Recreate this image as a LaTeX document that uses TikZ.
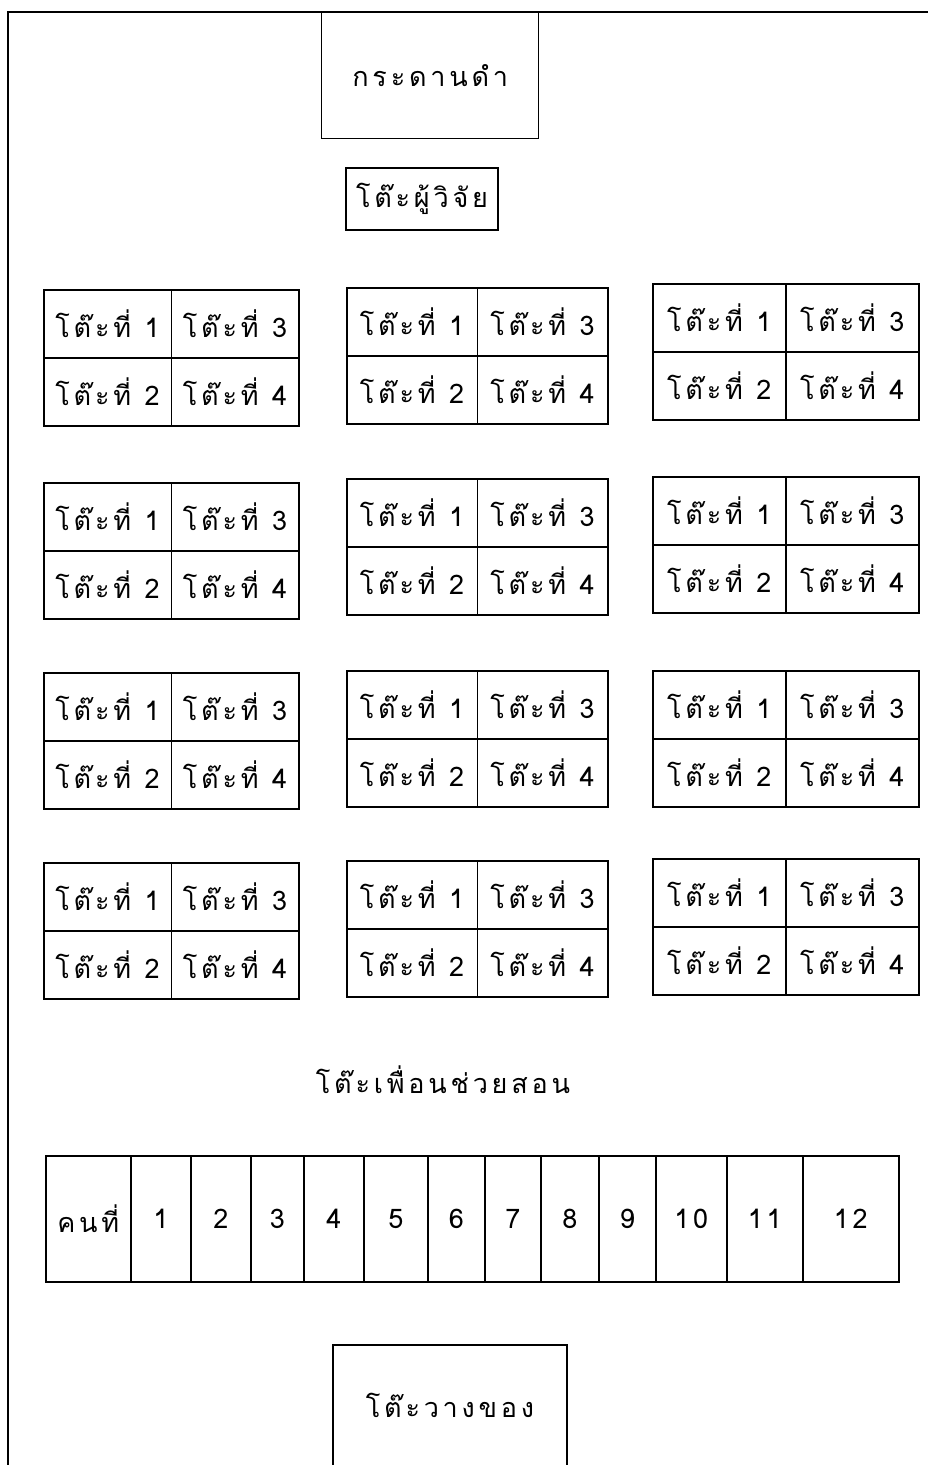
\documentclass[tikz,border=0pt]{standalone}
\usepackage{fontspec}
\newfontfamily\thaifont[Script=Thai,LetterSpace=14]{Loma}
\begin{document}
\begin{tikzpicture}[x=1pt,y=-1pt,
  line width=1.6pt,
  every node/.style={font=\thaifont\fontsize{27}{30}\selectfont, inner sep=0pt},
  cellbox/.style={draw, anchor=north west, line width=1.6pt},
  plainbox/.style={draw, line width=1.4pt}]
\useasboundingbox (0,0) rectangle (928,1465);
% frame
\coordinate (fb) at (8,1465);
\coordinate (ftl) at (8,12);
\coordinate (ftr) at (928,12);
\draw[line width=2pt] (fb) -- (ftl) -- (ftr);
% blackboard
\node[plainbox, minimum width=217, minimum height=126, anchor=north west] (board) at (321,12) {กระดานดำ};
% researcher desk
\node[plainbox, line width=2pt, minimum width=152, minimum height=62, anchor=north west] (researcher) at (345,167) {โต๊ะผู้วิจัย};
% table groups
\foreach \r/\ya/\yb/\yc in {1/289/287/283, 2/482/478/476, 3/672/670/670, 4/862/860/858}{
  \foreach \c/\x/\w/\yy in {1/43/255/\ya, 2/346/261/\yb, 3/652/266/\yc}{
    \pgfmathsetmacro{\hw}{\w/2}
    \node[cellbox, minimum width=\hw, minimum height=68] (g\r\c a) at (\x,\yy) {โต๊ะที่\enspace 1};
    \node[cellbox, minimum width=\hw, minimum height=68] (g\r\c c) at (\x+\hw,\yy) {โต๊ะที่\enspace 3};
    \node[cellbox, minimum width=\hw, minimum height=68] (g\r\c b) at (\x,\yy+68) {โต๊ะที่\enspace 2};
    \node[cellbox, minimum width=\hw, minimum height=68] (g\r\c d) at (\x+\hw,\yy+68) {โต๊ะที่\enspace 4};
  }
}
% peer tutor label
\node (peerlabel) at (443,1080) {โต๊ะเพื่อนช่วยสอน};
% peer tutor row
\node[cellbox, minimum width=85, minimum height=126] (p0) at (45,1155) {คนที่};
\foreach \i/\xa/\xb in {1/130/190, 2/190/250, 3/250/303, 4/303/363, 5/363/427, 6/427/484, 7/484/540, 8/540/598, 9/598/655, 10/655/726, 11/726/802, 12/802/898}{
  \node[cellbox, minimum width=\xb-\xa, minimum height=126] (p\i) at (\xa,1155) {\i};
}
% storage table (cut off at bottom)
\coordinate (sbl) at (333,1465);
\coordinate (stl) at (333,1345);
\coordinate (str) at (567,1345);
\coordinate (sbr) at (567,1465);
\draw[line width=1.6pt] (sbl) -- (stl) -- (str) -- (sbr);
\node (storage) at (450,1405) {โต๊ะวางของ};
\end{tikzpicture}
\end{document}
